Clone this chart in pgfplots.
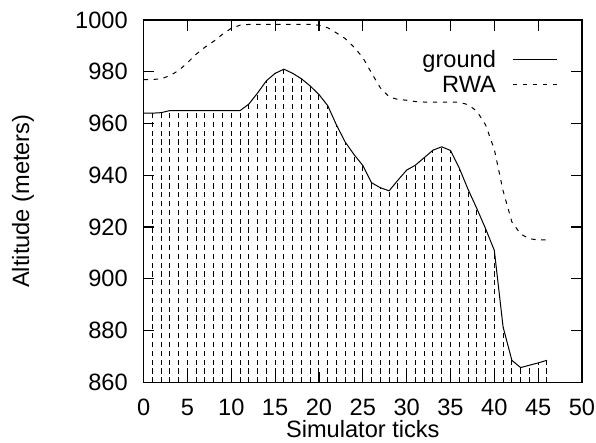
\documentclass[border=0pt]{standalone}
\usepackage{pgfplots}
\pgfplotsset{compat=1.18}
\usepackage{fontspec}
\setmainfont{Liberation Sans}

\pgfplotstableread{
x ground rwa
0 964.0 977.0
1 964.0 977.0
2 964.2 977.3
3 965.0 978.5
4 965.0 980.5
5 965.0 983.5
6 965.0 986.8
7 965.0 989.5
8 965.0 991.8
9 965.0 994.5
10 965.0 996.8
11 965.0 998.0
12 967.5 998.3
13 971.8 998.3
14 976.5 998.3
15 979.4 998.3
16 981.0 998.3
17 979.4 998.3
18 977.3 998.3
19 974.5 998.3
20 971.2 998.0
21 966.9 997.0
22 959.4 995.0
23 952.8 992.8
24 948.0 989.5
25 943.8 985.5
26 937.1 979.5
27 935.2 973.8
28 934.0 970.3
29 938.1 969.3
30 942.0 969.0
31 943.9 968.5
32 946.8 968.3
33 949.7 968.3
34 951.0 968.3
35 949.6 968.3
36 942.8 968.2
37 934.6 967.3
38 927.2 964.8
39 919.4 959.5
40 911.0 950.0
41 881.4 934.0
42 868.5 922.0
43 865.7 917.3
44 866.6 915.5
45 867.5 915.0
46 868.5 915.0
}\data

\begin{document}
\begin{tikzpicture}
\begin{axis}[
  name=ax,
  scale only axis, width=219pt, height=181pt,
  xmin=0, xmax=50, ymin=860, ymax=1000,
  xtick={0,5,...,50}, ytick={860,880,...,1000},
  font=\fontsize{11.8}{14}\selectfont,
  tick align=inside, major tick length=5.3pt,
  axis line style={line width=0.7pt},
  every tick/.style={black, line width=0.6pt},
  /pgf/number format/assume math mode=true,
  /pgf/number format/1000 sep={},
  xticklabel style={inner sep=0pt, anchor=base, yshift=-16.5pt},
  yticklabel style={inner sep=0pt, anchor=east, xshift=-7.75pt},
  xlabel={Simulator ticks},
  ylabel={Altitude (meters)},
  xlabel style={at={(axis description cs:0.5,0)}, anchor=base, yshift=-27.5pt, inner sep=0pt},
  ylabel style={at={(axis description cs:-0.2751,0.5)}, anchor=center, inner sep=0pt},
  legend style={draw=none, fill=none, at={(rel axis cs:0.944,0.922)}, anchor=north east,
    row sep=2pt, column sep=8pt, inner sep=0pt,
    nodes={inner sep=0pt, text height=9.5pt, text depth=1pt}},
  legend plot pos=right, legend cell align=right,
  legend image code/.code={\draw[#1] plot coordinates {(0pt,0pt) (11pt,0pt) (22pt,0pt)};},
]
\addplot[ycomb, black, line width=0.5pt, dash pattern=on 2.6pt off 1.8pt, forget plot]
  table[x=x, y=ground] {\data};
\addplot[black, line width=0.5pt] table[x=x, y=ground] {\data};
\addlegendentry{ground}
\addplot[black, line width=0.5pt, dash pattern=on 2.2pt off 2.8pt] table[x=x, y=rwa] {\data};
\addlegendentry{RWA}
\end{axis}
\pgfresetboundingbox
\path[use as bounding box] ([xshift=-71.75pt, yshift=-30pt]ax.south west) rectangle ([xshift=7pt, yshift=10pt]ax.north east);
\end{tikzpicture}
\end{document}
